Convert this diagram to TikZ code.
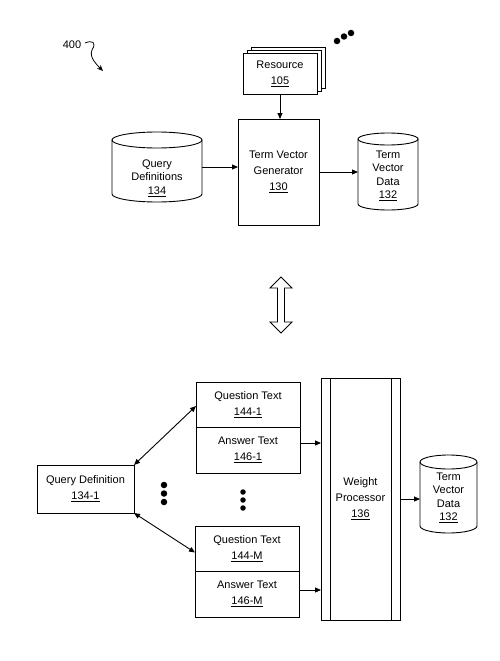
\documentclass[tikz,border=0pt]{standalone}
\usepackage{fontspec}
\setmainfont{Liberation Sans}
\usetikzlibrary{arrows.meta,calc}
\tikzset{
 box/.style={draw, line width=0.9pt, inner sep=0pt, outer sep=0pt, align=center, font=\fontsize{11}{16}\selectfont},
 cylt/.style={align=center, font=\fontsize{11}{13.5}\selectfont, inner sep=0pt},
 cylbody/.style={inner sep=0pt, outer sep=0pt},
 arr/.style={-{Triangle[length=6pt,width=5pt]}, line width=0.9pt},
 darr/.style={{Triangle[length=6pt,width=5pt]}-{Triangle[length=6pt,width=5pt]}, line width=0.9pt},
 bigdot/.style={circle, fill, inner sep=0pt, minimum size=6.5pt},
 lbl/.style={font=\fontsize{11}{13}\selectfont, inner sep=0pt},
}
\newcommand\drawcyl[3]{%
 \draw[line width=0.9pt] ([yshift=-#3pt]#1.north west) -- ([yshift=#3pt]#1.south west)
   arc[start angle=180,end angle=360,x radius=#2pt,y radius=#3pt]
   -- ([yshift=-#3pt]#1.north east);
 \draw[line width=0.9pt] ([yshift=-#3pt]#1.north) ellipse[x radius=#2pt,y radius=#3pt];}
\begin{document}
\begin{tikzpicture}[x=1pt,y=-1pt]
\useasboundingbox (0,0) rectangle (500,661);
% label 400
\node[lbl] (l400) at (72,45) {400};
\coordinate (l400tip) at (103,71);
\draw[-{Stealth[length=6pt,width=5pt]}, line width=0.8pt] (85,43) .. controls (92,40) and (97,42) .. (92,50) .. controls (89,57) and (96,64) .. (l400tip);
% dots top
\node[bigdot] (d1) at (337,41) {};
\node[bigdot] (d2) at (344,36.5) {};
\node[bigdot] (d3) at (351,33) {};
% resource stack
\node[box, fill=white, minimum width=74pt, minimum height=41pt] (resb2) at (288,67.5) {};
\node[box, fill=white, minimum width=74pt, minimum height=41pt] (resb1) at (284,70.5) {};
\node[box, fill=white, minimum width=74pt, minimum height=41pt] (res) at (280,73.5) {Resource\\\underline{105}};
% term vector generator
\node[box, minimum width=81pt, minimum height=106pt] (tvg) at (278.5,172) {Term Vector\\Generator\\\underline{130}};
% query definitions cylinder
\node[cylbody, minimum width=90pt, minimum height=70pt] (qd) at (157,167) {};
\drawcyl{qd}{45}{8}
\node[cylt] (qdt) at (157,178) {Query\\Definitions\\\underline{134}};
% term vector data cylinder
\node[cylbody, minimum width=60pt, minimum height=77pt] (tvd) at (388,171.5) {};
\drawcyl{tvd}{30}{6}
\node[cylt] (tvdt) at (388,176) {Term\\Vector\\Data\\\underline{132}};
% arrows top
\draw[arr] (res.south) -- (res.south |- tvg.north);
\draw[arr] (qd.east) -- (qd.east -| tvg.west);
\draw[arr] (tvg.east) -- (tvg.east -| tvd.west);
% hollow double arrow
\draw[line width=0.9pt] (281,277) -- (292,288) -- (284.5,288) -- (284.5,322) -- (292,322) -- (281,333) -- (270,322) -- (277.5,322) -- (277.5,288) -- (270,288) -- cycle;
% bottom boxes
\node[box, minimum width=104pt, minimum height=45pt] (q1) at (248,404.5) {Question Text\\\underline{144-1}};
\node[box, minimum width=104pt, minimum height=46pt, anchor=north] (a1) at (q1.south) {Answer Text\\\underline{146-1}};
\node[box, minimum width=104pt, minimum height=45pt] (qm) at (247,548.5) {Question Text\\\underline{144-M}};
\node[box, minimum width=104pt, minimum height=46pt, anchor=north] (am) at (qm.south) {Answer Text\\\underline{146-M}};
\node[box, minimum width=97pt, minimum height=48pt] (qd1) at (85.5,489) {Query Definition\\\underline{134-1}};
% weight processor
\node[box, minimum width=79pt, minimum height=242pt] (wp) at (360.5,499) {Weight\\Processor\\\underline{136}};
\draw[line width=0.9pt] ([xshift=9pt]wp.north west) -- ([xshift=9pt]wp.south west);
\draw[line width=0.9pt] ([xshift=-9pt]wp.north east) -- ([xshift=-9pt]wp.south east);
% term vector data 2
\node[cylbody, minimum width=57pt, minimum height=78pt] (tvd2) at (448.5,494) {};
\drawcyl{tvd2}{28.5}{7}
\node[cylt] (tvd2t) at (448.5,498) {Term\\Vector\\Data\\\underline{132}};
% dots
\node[bigdot] (e1) at (164,485) {};
\node[bigdot] (e2) at (164,493.5) {};
\node[bigdot] (e3) at (164,502) {};
\node[bigdot, minimum size=5.5pt] (f1) at (243,492) {};
\node[bigdot, minimum size=5.5pt] (f2) at (243,500) {};
\node[bigdot, minimum size=5.5pt] (f3) at (243,508) {};
% connectors bottom
\draw[darr] (qd1.north east) -- ([yshift=-1.5pt]q1.west);
\draw[darr] (qd1.south east) -- ([yshift=-4pt]qm.west);
\draw[arr] ([yshift=7pt]a1.east) -- ([yshift=7pt]a1.east -| wp.west);
\draw[arr] ([yshift=4pt]am.east) -- ([yshift=4pt]am.east -| wp.west);
\draw[arr] (wp.east) -- (wp.east -| tvd2.west);
\end{tikzpicture}
\end{document}
